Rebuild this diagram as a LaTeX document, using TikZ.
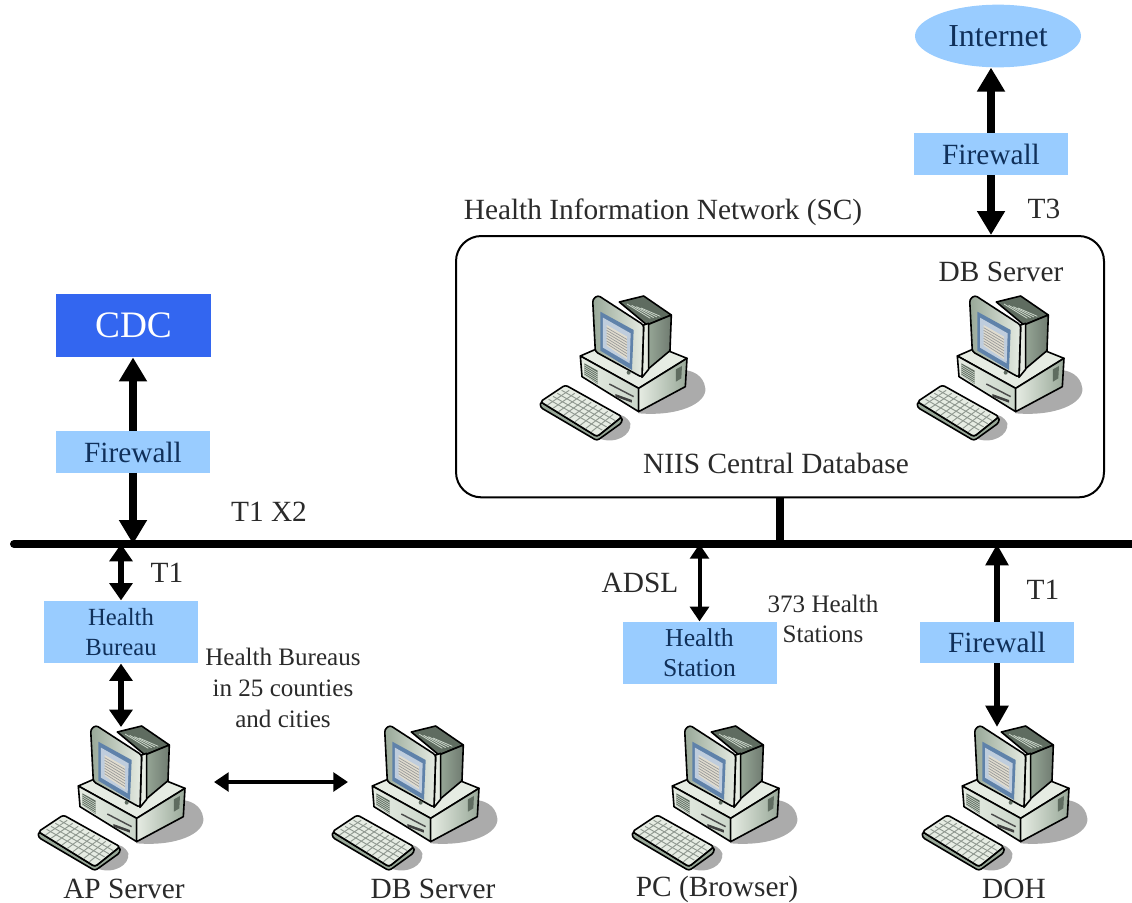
\documentclass[tikz,border=0pt]{standalone}
\usepackage{fontspec}
\setmainfont{Liberation Serif}
\usetikzlibrary{arrows.meta,shapes.geometric}
\definecolor{boxblue}{HTML}{99CCFF}
\definecolor{navy}{HTML}{10305A}
\definecolor{cdcblue}{HTML}{3366F0}
\definecolor{txt}{HTML}{2A2A2A}
\definecolor{shad}{HTML}{ABABAB}
\definecolor{pc1}{HTML}{CBD6CA}
\definecolor{pc2}{HTML}{98A898}
\definecolor{pc3}{HTML}{5F6C60}
\definecolor{pc4}{HTML}{E6ECE3}
\definecolor{scr}{HTML}{5F82AA}
\definecolor{paper}{HTML}{E0DCCF}
\tikzset{
  x=0.75pt,y=-0.75pt,
  bluebox/.style={fill=boxblue,minimum width=115.5pt,text=navy,inner sep=0pt,align=center,font=\fontsize{22}{26}\selectfont},
  lab/.style={text=txt,inner sep=0pt,align=center,font=\fontsize{22}{26}\selectfont},
  smalllab/.style={text=txt,inner sep=0pt,align=center,font=\fontsize{18.8}{23}\selectfont},
  fathead/.style={line width=6.5pt,-{Triangle[length=18pt,width=20pt]}},
  midarrow/.style={line width=5pt,{Triangle[length=13pt,width=17pt]}-{Triangle[length=13pt,width=17pt]}},
  thinarrow/.style={line width=3pt,{Triangle[length=11pt,width=14pt]}-{Triangle[length=11pt,width=14pt]}},
  midhead/.style={line width=5pt,-{Triangle[length=16pt,width=16.5pt]}},
  outl/.style={draw=black,line width=1.2pt,line join=round},
}
\newcommand{\computer}[2]{%
\begin{scope}[shift={(#1,#2)},scale=0.3333]
  \fill[shad] (320,400) .. controls (440,410) and (525,370) .. (520,325) .. controls (515,285) and (480,270) .. (450,270) -- cycle;
  \fill[shad] (200,475) .. controls (250,495) and (300,465) .. (295,430) .. controls (285,410) and (270,405) .. (260,405) -- cycle;
  % base
  \fill[pc4,outl] (145,228) -- (290,165) -- (465,235) -- (320,325) -- cycle;
  \shade[left color=pc4,right color=pc1] (145,228) -- (320,325) -- (320,395) -- (150,290) -- cycle;
  \draw[outl] (145,228) -- (320,325) -- (320,395) -- (150,290) -- cycle;
  \shade[left color=pc4,right color=pc2] (320,325) -- (465,235) -- (460,320) -- (320,395) -- cycle;
  \draw[outl] (320,325) -- (465,235) -- (460,320) -- (320,395) -- cycle;
  \fill[pc3] (432,268) -- (450,258) -- (448,295) -- (432,305) -- cycle;
  \fill[pc3] (157,250) -- (197,272) -- (197,312) -- (157,285) -- cycle;
  \foreach \i in {0,1,2,3,4,5} \draw[pc1,line width=.5pt] (157,{255+\i*6}) -- (197,{279+\i*6});
  \draw[black!70,line width=1.1pt] (232,312) -- (305,350);
  \fill[black!75] (250,342) -- (300,360) -- (300,368) -- (250,350) -- cycle;
  % monitor
  \fill[pc3,outl] (262,66) -- (335,48) -- (418,105) -- (345,135) -- cycle;
  \foreach \i in {0,1,2,3} \draw[pc1,line width=.6pt] ({285+\i*14},{72+\i*4}) -- ({355+\i*10},{115+\i*-2});
  \shade[left color=pc2,right color=pc3!90] (345,135) -- (418,105) -- (414,212) -- (345,270) -- cycle;
  \draw[outl] (345,135) -- (418,105) -- (414,212) -- (345,270) -- cycle;
  \fill[pc4,outl] (335,135) -- (350,130) -- (350,268) -- (330,292) -- cycle;
  \shade[left color=pc2,right color=pc4,rounded corners=2pt] (182,58) -- (198,46) -- (335,135) -- (330,292) -- (190,215) -- cycle;
  \draw[outl,rounded corners=2pt] (182,58) -- (198,46) -- (335,135) -- (330,292) -- (190,215) -- cycle;
  \fill[scr] (205,95) -- (305,150) -- (300,270) -- (205,212) -- cycle;
  \fill[white!60!scr] (213,113) -- (296,160) -- (293,250) -- (213,203) -- cycle;
  \fill[paper] (224,135) -- (285,170) -- (285,238) -- (224,197) -- cycle;
  \foreach \i in {1,...,7} \draw[black!40,line width=.5pt] (224,{135+\i*8}) -- (285,{170+\i*8.5});
  \fill[pc3] (290,278) circle (6);
  % keyboard
  \fill[pc2,outl,rounded corners=2pt] (25,365) -- (25,382) -- (195,482) -- (270,428) -- (270,410) -- (195,470) -- cycle;
  \fill[pc4,outl,rounded corners=2pt] (25,365) -- (100,315) -- (270,410) -- (195,470) -- cycle;
  \foreach \i in {1,2,3,4} \draw[pc3!70,line width=.7pt] ({37+\i*13},{367-\i*9}) -- ({198+\i*13},{460-\i*9.5});
  \foreach \i in {1,...,9} \draw[pc3!70,line width=.7pt] ({30+\i*16.5},{365+\i*10}) -- ({95+\i*16.5},{322+\i*9});
\end{scope}}
\begin{document}
\begin{tikzpicture}
\useasboundingbox (0,0) rectangle (1132,903);
% bus
\coordinate (busL) at (14,544);
\coordinate (busR) at (1132,544);
% computers
\computer{30}{710}
\computer{324}{710}
\computer{624}{710}
\computer{914}{710}
\computer{532}{280}
\computer{909}{280}
% network box
\node[draw=black,line width=1.5pt,rounded corners=19pt,minimum width=486pt,minimum height=196pt,inner sep=0pt,anchor=north west] (sc) at (455,235) {};
\coordinate (scbus) at (780,544);
\draw[line width=5.5pt] (scbus |- sc.south) -- (scbus);
\draw[line width=6pt,line cap=round] (busL) -- (busR);
% top right
\node[ellipse,fill=boxblue,minimum width=124.5pt,minimum height=47pt,inner sep=0pt,text=navy,font=\fontsize{24}{28}\selectfont] (inet) at (998,36) {Internet};
\node[bluebox,minimum height=31.5pt] (fwtop) at (991,154) {Firewall};
\draw[fathead] (fwtop.north) -- (fwtop.north |- inet.south);
\draw[fathead] (fwtop.south) -- (fwtop.south |- sc.north);
% left
\node[fill=cdcblue,minimum width=116pt,minimum height=47.5pt,inner sep=0pt,text=white,font=\fontsize{28}{30}\selectfont] (cdc) at (133.5,325.5) {CDC};
\node[bluebox,minimum height=31pt] (fwleft) at (133,452) {Firewall};
\draw[fathead] (fwleft.north) -- (fwleft.north |- cdc.south);
\draw[fathead] (fwleft.south) -- (fwleft.south |- busL);
\node[bluebox,minimum height=47pt,font=\fontsize{18.5}{22.5}\selectfont] (bureau) at (121,632) {Health\\Bureau};
\draw[midarrow] (bureau.north) -- (bureau.north |- busL);
\coordinate (apTop) at (121,727);
\draw[midarrow] (bureau.south) -- (apTop);
\coordinate (dbL) at (214,782);
\coordinate (dbR) at (348,782);
\draw[thinarrow] (dbL) -- (dbR);
% station
\node[bluebox,minimum height=47pt,font=\fontsize{19.3}{22.5}\selectfont] (station) at (699.5,653) {Health\\Station};
\draw[thinarrow] (station.north) -- (station.north |- busL);
% DOH
\node[bluebox,minimum height=31pt] (fwdoh) at (997,642.5) {Firewall};
\draw[midhead] (fwdoh.north) -- (fwdoh.north |- busL);
\coordinate (dohTop) at (997,727);
\draw[midhead] (fwdoh.south) -- (dohTop);
% labels
\node[lab] (l1) at (663,212) {Health Information Network (SC)};
\node[lab] (l2) at (1044,209) {T3};
\node[lab] (l3) at (1001,272) {DB Server};
\node[lab] (l4) at (776,463) {NIIS Central Database};
\node[lab] (l5) at (269,512) {T1 X2};
\node[lab] (l6) at (167,573) {T1};
\node[lab] (l7) at (640,583) {ADSL};
\node[lab] (l8) at (1043,590) {T1};
\node[smalllab] (l9) at (283,688) {Health Bureaus\\in 25 counties\\and cities};
\node[smalllab] (l10) at (823,619) {373 Health\\Stations};
\node[lab] (l11) at (124,889) {AP Server};
\node[lab] (l12) at (433,889) {DB Server};
\node[lab] (l13) at (717,889) {PC (Browser)};
\node[lab] (l14) at (1014,889) {DOH};
\end{tikzpicture}
\end{document}
